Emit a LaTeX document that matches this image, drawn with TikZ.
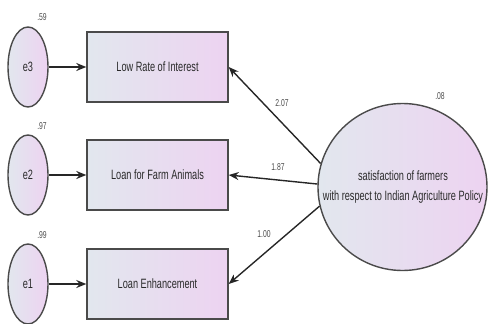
\documentclass[tikz,border=0pt]{standalone}
\usepackage{fontspec}
\setmainfont{Liberation Sans}
\newfontfamily\narrowfont[FakeStretch=0.68]{Liberation Sans}
\usetikzlibrary{shapes.geometric,arrows.meta}
\definecolor{leftc}{HTML}{E2E7EE}
\definecolor{rightc}{HTML}{EDD3F1}
\definecolor{edgec}{HTML}{4A4A4A}
\definecolor{txtc}{HTML}{2A2A2A}
\definecolor{labc}{HTML}{4A4A4A}
\tikzset{
  obsbox/.style={rectangle, draw=edgec, line width=1.4pt, left color=leftc, right color=rightc,
    minimum width=141pt, minimum height=70pt, inner sep=0pt,
    font=\narrowfont\fontsize{13.5}{15}\selectfont, text=txtc},
  errell/.style={ellipse, draw=edgec, line width=1.4pt, left color=leftc, right color=rightc,
    minimum width=40pt, minimum height=80pt, inner sep=0pt,
    font=\narrowfont\fontsize{13.5}{15}\selectfont, text=txtc},
  latell/.style={ellipse, draw=edgec, line width=1.4pt, left color=leftc, right color=rightc,
    minimum width=169pt, minimum height=167pt, inner sep=0pt},
  lattext/.style={align=center, inner sep=0pt,
    font=\narrowfont\fontsize{13.5}{20}\selectfont, text=txtc},
  conn/.style={draw=black!85, line width=1.4pt, -{Stealth[length=10pt,width=8pt]}},
  numlab/.style={font=\narrowfont\fontsize{10}{11}\selectfont, text=labc, inner sep=0pt}
}
\begin{document}
\begin{tikzpicture}[x=1pt,y=-1pt]
\useasboundingbox (0,0) rectangle (488,324);
% error terms
\node[errell] (e3) at (28,67) {e3};
\node[errell] (e2) at (28,175) {e2};
\node[errell] (e1) at (28,284) {e1};
% observed variables
\node[obsbox] (b1) at (157.5,67) {Low Rate of Interest};
\node[obsbox] (b2) at (157.5,175) {Loan for Farm Animals};
\node[obsbox] (b3) at (157.5,284) {Loan Enhancement};
% latent variable
\node[latell] (lat) at (402.5,187) {};
\node[lattext] (latt) at (403,187) {satisfaction of farmers\\with respect to Indian Agriculture Policy};
% connectors
\draw[conn] (e3) -- (b1);
\draw[conn] (e2) -- (b2);
\draw[conn] (e1) -- (b3);
\draw[conn] (lat.164) -- (b1.east);
\draw[conn] (lat.178) -- (b2.east);
\draw[conn] (lat.193) -- (b3.east);
% labels
\node[numlab] (l59) at (42,17) {.59};
\node[numlab] (l97) at (42,126) {.97};
\node[numlab] (l99) at (42,235) {.99};
\node[numlab] (l08) at (440,96) {.08};
\node[numlab] (l207) at (282,103) {2.07};
\node[numlab] (l187) at (278,167) {1.87};
\node[numlab] (l100) at (264,234) {1.00};
\end{tikzpicture}
\end{document}
